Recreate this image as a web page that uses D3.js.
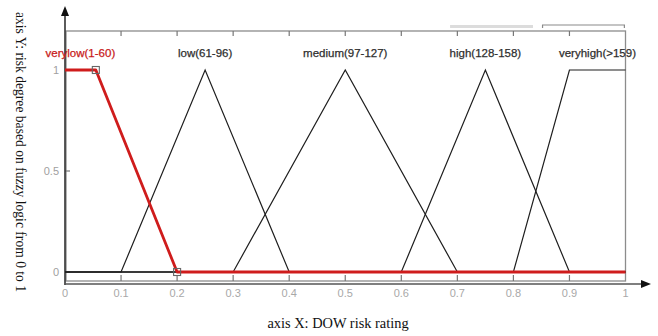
<!DOCTYPE html>
<html><head><meta charset="utf-8">
<script src="https://cdn.jsdelivr.net/npm/d3@7"></script>
<style>html,body{margin:0;padding:0;background:#fff;}svg{display:block;}</style>
</head><body>
<svg id="c" width="658" height="336"></svg>
<script>
// ---- data ----
const categories = ["verylow(1-60)", "low(61-96)", "medium(97-127)", "high(128-158)", "veryhigh(>159)"];
const verylowX = [0, 0.055, 0.2, 1];
const verylowY = [1, 1, 0, 0];
const lowX = [0, 0.1, 0.25, 0.4, 1];
const lowY = [0, 0, 1, 0, 0];
const mediumX = [0, 0.3, 0.5, 0.7, 1];
const mediumY = [0, 0, 1, 0, 0];
const highX = [0, 0.6, 0.75, 0.9, 1];
const highY = [0, 0, 1, 0, 0];
const veryhighX = [0, 0.8, 0.9, 1];
const veryhighY = [0, 0, 1, 1];
const xTicks = [0, 0.1, 0.2, 0.3, 0.4, 0.5, 0.6, 0.7, 0.8, 0.9, 1];
const xTickLabels = ["0", "0.1", "0.2", "0.3", "0.4", "0.5", "0.6", "0.7", "0.8", "0.9", "1"];
const yTicks = [0, 0.5, 1];
const yTickLabels = ["0", "0.5", "1"];
const xTitle = "axis X: DOW risk rating";
const yTitle = "axis Y: risk degree based on fuzzy logic from 0 to 1";

const series = [
  {name: categories[0], xs: verylowX, ys: verylowY},
  {name: categories[1], xs: lowX, ys: lowY},
  {name: categories[2], xs: mediumX, ys: mediumY},
  {name: categories[3], xs: highX, ys: highY},
  {name: categories[4], xs: veryhighX, ys: veryhighY}
];

// ---- layout ----
const svg = d3.select("#c");
const x = d3.scaleLinear().domain([0, 1]).range([65, 625.5]);
const y = d3.scaleLinear().domain([0, 1]).range([272, 70]);
const boxTop = 31, boxBottom = 281, axisY = 284;
const sans = "Liberation Sans, Arial, sans-serif";
const serif = "Liberation Serif, Times New Roman, serif";

// decorative bars above plot (as in source image)
svg.append("line").attr("x1", x(0.687)).attr("x2", x(0.835)).attr("y1", 26.5).attr("y2", 26.5)
  .attr("stroke", "#dcdcdc").attr("stroke-width", 3);
svg.append("path").attr("d", `M${x(0.852)},28V25H${x(0.998)}V28`)
  .attr("fill", "none").attr("stroke", "#8a8a8a").attr("stroke-width", 1.2);

// plot box
svg.append("rect").attr("x", x(0) + 1).attr("y", boxTop).attr("width", x(1) - x(0) - 1).attr("height", boxBottom - boxTop)
  .attr("fill", "none").attr("stroke", "#8c8c8c").attr("stroke-width", 1.3);

// top ticks (pointing down) and bottom ticks (pointing up)
const inner = xTicks.filter(t => t > 0 && t < 1);
svg.append("g").selectAll("line").data(inner).join("line")
  .attr("x1", d => x(d)).attr("x2", d => x(d)).attr("y1", boxTop).attr("y2", boxTop + 5)
  .attr("stroke", "#777").attr("stroke-width", 1.2);
svg.append("g").selectAll("line").data(inner).join("line")
  .attr("x1", d => x(d)).attr("x2", d => x(d)).attr("y1", boxBottom).attr("y2", boxBottom - 6)
  .attr("stroke", "#777").attr("stroke-width", 1.2);
// y ticks
svg.append("g").selectAll("line").data(yTicks).join("line")
  .attr("x1", x(0)).attr("x2", x(0) + 5).attr("y1", d => y(d)).attr("y2", d => y(d))
  .attr("stroke", "#777").attr("stroke-width", 1.2);

// axes with arrows
svg.append("line").attr("x1", x(0)).attr("x2", x(0)).attr("y1", 14).attr("y2", axisY + 1)
  .attr("stroke", "#333").attr("stroke-width", 1.6);
svg.append("path").attr("d", `M${x(0)},6L${x(0) - 4},16L${x(0) + 4},16Z`).attr("fill", "#111");
svg.append("line").attr("x1", x(0)).attr("x2", 643).attr("y1", axisY).attr("y2", axisY)
  .attr("stroke", "#555").attr("stroke-width", 1.5);
svg.append("path").attr("d", `M651,${axisY}L641,${axisY - 4}L641,${axisY + 4}Z`).attr("fill", "#111");

// tick labels
svg.append("g").selectAll("text").data(xTicks).join("text")
  .attr("x", d => x(d)).attr("y", 297).attr("text-anchor", "middle")
  .attr("font-family", sans).attr("font-size", 11).attr("fill", "#a8a8a8")
  .text((d, i) => xTickLabels[i]);
svg.append("g").selectAll("text").data(yTicks).join("text")
  .attr("x", 59).attr("y", d => y(d) + 4).attr("text-anchor", "end")
  .attr("font-family", sans).attr("font-size", 11).attr("fill", "#a0a0a0")
  .text((d, i) => yTickLabels[i]);

// membership functions
const line = d3.line().x(d => x(d[0])).y(d => y(d[1]));
const pts = s => s.xs.map((v, i) => [v, s.ys[i]]);
svg.append("g").selectAll("path").data(series.slice(1)).join("path")
  .attr("d", s => line(pts(s))).attr("fill", "none").attr("stroke", "#1e1e1e").attr("stroke-width", 1.2);
svg.append("path").attr("d", line(pts(series[0]))).attr("fill", "none")
  .attr("stroke", "#cf1c1c").attr("stroke-width", 2.8).attr("stroke-linejoin", "round");
// square markers on verylow breakpoints
const marks = [[verylowX[1], verylowY[1]], [verylowX[2], verylowY[2]]];
svg.append("g").selectAll("rect").data(marks).join("rect")
  .attr("x", d => x(d[0]) - 3.5).attr("y", d => y(d[1]) - 3.5).attr("width", 7).attr("height", 7)
  .attr("fill", "none").attr("stroke", "#666").attr("stroke-width", 1.1);

// category labels centred over each function's plateau / peak
svg.append("g").selectAll("text").data(series).join("text")
  .attr("x", s => x(d3.mean(s.xs.filter((v, i) => s.ys[i] === 1))))
  .attr("y", 57).attr("text-anchor", "middle")
  .attr("font-family", sans).attr("font-size", 11.5)
  .attr("fill", (s, i) => i === 0 ? "#c81a1a" : "#2e2e2e")
  .attr("stroke", (s, i) => i === 0 ? "#c81a1a" : "#2e2e2e").attr("stroke-width", 0.25)
  .text(s => s.name);

// axis titles
svg.append("text").attr("x", 338).attr("y", 328).attr("text-anchor", "middle")
  .attr("font-family", serif).attr("font-size", 14.4).attr("fill", "#111").text(xTitle);
svg.append("text").attr("transform", "translate(16,152) rotate(90)").attr("text-anchor", "middle")
  .attr("font-family", serif).attr("font-size", 13.6).attr("fill", "#111").text(yTitle);
</script>
</body></html>
